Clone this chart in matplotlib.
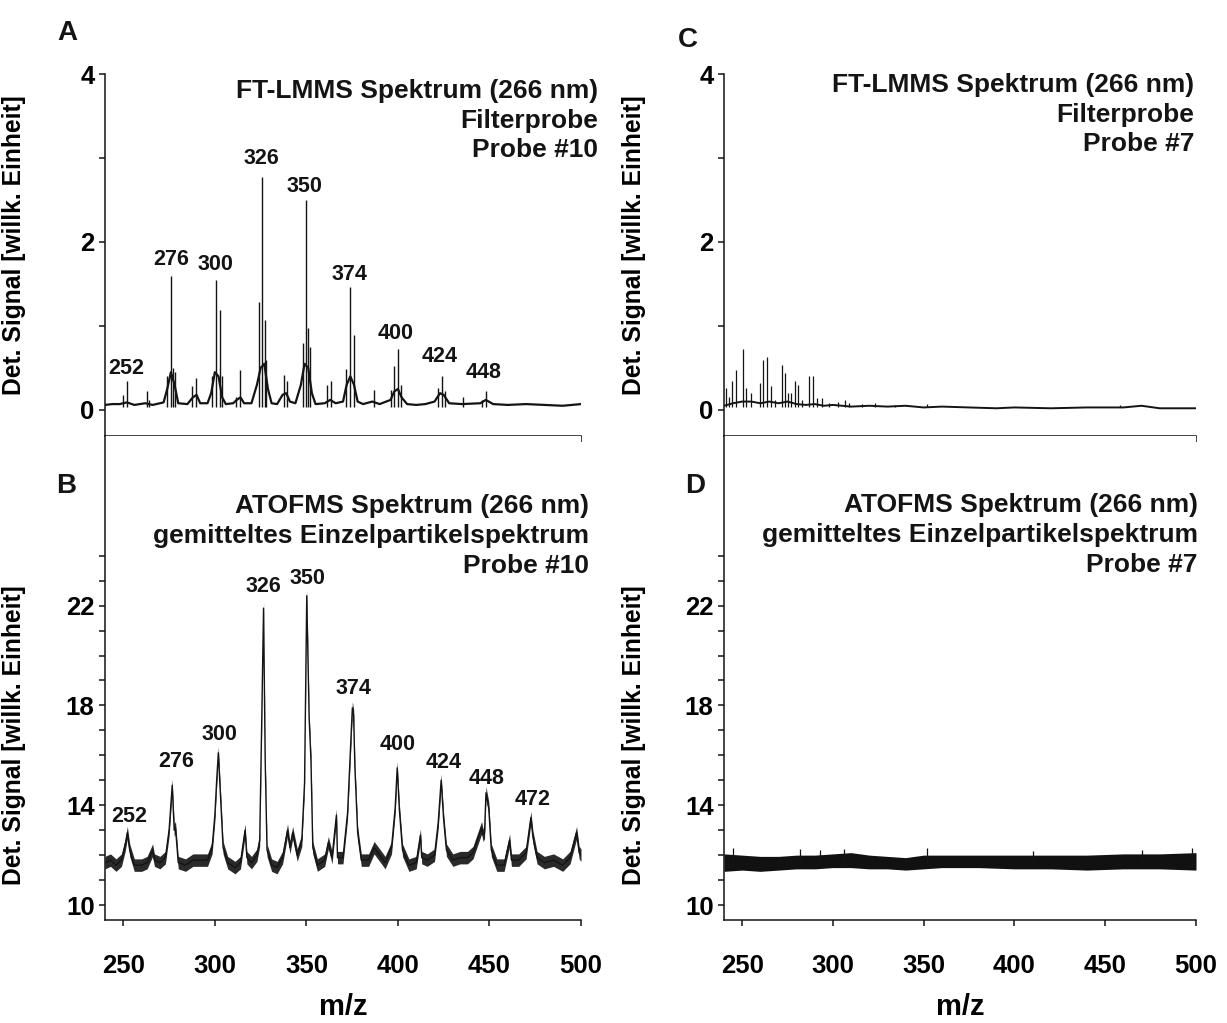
import matplotlib
matplotlib.use("Agg")
import matplotlib.pyplot as plt
from matplotlib.ticker import FixedLocator
import numpy as np

plt.rcParams['font.family'] = ['Liberation Sans', 'DejaVu Sans']
plt.rcParams['font.weight'] = 'bold'

ink = '#141414'

# ---- A: FT-LMMS, Probe #10 (baseline trace + sticks)
A_base_mz = [240, 244, 248, 252, 256, 262, 266, 272, 274, 276, 278, 280, 285, 288, 290, 292, 296, 298,
             300, 302, 304, 306, 310, 312, 314, 316, 320, 323, 325, 327, 329, 331, 334, 337, 339, 341,
             344, 347, 349, 351, 353, 355, 360, 363, 366, 370, 372, 374, 376, 378, 381, 386, 390, 396,
             398, 400, 402, 405, 410, 415, 420, 423, 425, 428, 435, 445, 448, 452, 460, 470, 480, 490, 500]
A_base_sig = [0.06, 0.07, 0.07, 0.09, 0.06, 0.08, 0.06, 0.09, 0.25, 0.45, 0.30, 0.08, 0.07, 0.15, 0.18, 0.08, 0.08, 0.20,
              0.45, 0.40, 0.15, 0.07, 0.08, 0.12, 0.15, 0.08, 0.08, 0.30, 0.50, 0.55, 0.25, 0.08, 0.07, 0.18, 0.20, 0.10,
              0.08, 0.30, 0.55, 0.50, 0.20, 0.07, 0.08, 0.12, 0.08, 0.10, 0.30, 0.40, 0.30, 0.10, 0.07, 0.10, 0.07, 0.12,
              0.22, 0.25, 0.15, 0.07, 0.06, 0.07, 0.10, 0.20, 0.18, 0.08, 0.07, 0.08, 0.12, 0.07, 0.06, 0.07, 0.06, 0.05, 0.07]
A_peak_mz = [249.6, 252, 262.7, 264, 273.6, 276, 277, 278, 287.4, 289.6, 298.5, 300.6, 302.8, 304, 311.5, 313.7,
             324.2, 326, 327.3, 328, 337.5, 339.3, 348.2, 350, 350.9, 352, 361, 363.2, 371.8, 373.8, 376,
             386.9, 396, 397.9, 400, 401.5, 421.7, 423.9, 425.5, 435.4, 446, 448.3]
A_peak_h = [0.18, 0.35, 0.23, 0.12, 0.40, 1.60, 0.50, 0.45, 0.28, 0.38, 0.40, 1.55, 1.19, 0.40, 0.15, 0.48,
            1.28, 2.77, 1.07, 0.60, 0.42, 0.35, 0.80, 2.50, 0.98, 0.75, 0.30, 0.35, 0.49, 1.46, 0.89,
            0.24, 0.24, 0.52, 0.73, 0.30, 0.26, 0.41, 0.22, 0.16, 0.12, 0.23]
A_lab = ['252', '276', '300', '326', '350', '374', '400', '424', '448']
A_lab_mz = [251.7, 276, 300.4, 325.7, 349, 373.3, 398.8, 422.6, 446.8]
A_lab_y = [0.37, 1.67, 1.61, 2.87, 2.54, 1.49, 0.79, 0.51, 0.32]

# ---- B: ATOFMS, Probe #10
B_mz = [240, 243, 246, 249, 251, 252.2, 253.5, 256, 260, 263, 266, 267, 270, 273, 275, 276.7, 277.8, 278.5,
        280, 284, 288, 292, 296, 298.5, 300, 301, 301.9, 303, 304.5, 307, 311, 314, 316.5, 317.5, 320, 323,
        324.5, 325.5, 326.6, 327.5, 328.5, 331, 334, 337, 339.7, 341, 342.5, 345, 347.5, 349, 350.2, 351.5,
        352.5, 353.5, 356, 360, 362, 364, 366.4, 367, 370, 372.5, 373.8, 375.1, 375.8, 376.5, 378, 380, 384,
        387, 390, 393, 396.5, 398.5, 399.6, 400.8, 402.5, 406, 410, 412.3, 413, 416, 420, 422, 423.6, 425,
        426.5, 430, 434, 438, 441, 445.7, 446.5, 447.3, 448.1, 449.6, 451, 454, 458, 461, 462, 466, 470,
        471.5, 472.6, 473.8, 476, 480, 485, 490, 494, 497.6, 499, 500]
B_sig = [11.7, 11.8, 11.6, 11.8, 12.4, 12.9, 12.2, 11.6, 11.6, 11.7, 12.2, 11.8, 11.7, 11.9, 13.0, 14.8, 13.0, 13.1,
         11.7, 11.6, 11.8, 11.8, 11.8, 12.3, 13.6, 15.0, 16.1, 14.5, 12.3, 11.7, 11.5, 11.7, 13.0, 11.9, 11.7, 12.0,
         12.6, 16.9, 21.9, 15.8, 12.2, 11.6, 11.5, 11.9, 13.0, 12.3, 12.9, 12.0, 12.6, 14.9, 22.4, 17.5,
         15.8, 12.3, 11.6, 11.8, 12.5, 11.9, 13.6, 11.9, 11.9, 13.7, 15.8, 17.9, 17.6, 15.5, 12.9, 11.8, 11.8,
         12.3, 12.0, 11.7, 12.3, 13.9, 15.5, 13.8, 12.2, 11.6, 11.7, 12.8, 11.9, 11.8, 12.0, 13.3, 15.0, 13.4,
         12.2, 11.8, 11.9, 11.9, 12.1, 13.1, 12.8, 12.9, 14.5, 13.9, 12.2, 11.6, 11.6, 12.6, 11.8, 11.8, 12.1,
         12.9, 13.5, 12.7, 11.9, 11.7, 11.8, 11.6, 11.9, 12.9, 12.1, 12.0]
B_noise = 0.25
B_lab = ['252', '276', '300', '326', '350', '374', '400', '424', '448', '472']
B_lab_mz = [253.4, 278.9, 302.5, 326.4, 350.6, 375.5, 399.6, 425, 448.6, 473.5]
B_lab_y = [13.13, 15.33, 16.43, 22.33, 22.67, 18.27, 16.0, 15.29, 14.67, 13.8]

# ---- C: FT-LMMS, Probe #7
C_base_mz = [240, 245, 250, 255, 260, 265, 270, 275, 280, 285, 290, 295, 300, 305, 310, 320, 330, 340,
             350, 360, 375, 390, 400, 420, 440, 460, 470, 480, 500]
C_base_sig = [0.05, 0.08, 0.10, 0.10, 0.08, 0.10, 0.08, 0.10, 0.07, 0.06, 0.07, 0.05, 0.06, 0.05, 0.04, 0.05,
              0.04, 0.05, 0.03, 0.04, 0.03, 0.02, 0.03, 0.02, 0.03, 0.03, 0.05, 0.02, 0.02]
C_peak_mz = [241, 243, 244.6, 246.5, 250.4, 252, 255, 259.7, 261.4, 263.5, 265.7, 268, 271.7, 273.4, 275,
             276.8, 279, 281, 282.8, 287, 289, 291, 294, 298, 303, 306.6, 309, 316, 323, 334, 352, 368, 458]
C_peak_h = [0.26, 0.16, 0.34, 0.48, 0.73, 0.26, 0.20, 0.32, 0.60, 0.63, 0.28, 0.12, 0.54, 0.44, 0.20,
            0.20, 0.34, 0.30, 0.12, 0.40, 0.40, 0.14, 0.14, 0.08, 0.10, 0.12, 0.08, 0.07, 0.08, 0.06, 0.07, 0.05, 0.06]

# ---- D: ATOFMS, Probe #7 (flat noise band)
D_mz = [240, 250, 260, 270, 280, 290, 300, 310, 320, 330, 340, 350, 360, 380, 400, 420, 440, 460, 480, 500]
D_lo = [11.35, 11.40, 11.35, 11.40, 11.45, 11.45, 11.50, 11.50, 11.45, 11.45, 11.40, 11.45, 11.50, 11.50,
        11.45, 11.45, 11.40, 11.45, 11.45, 11.40]
D_hi = [12.05, 12.00, 11.95, 11.95, 12.00, 12.00, 12.05, 12.10, 12.00, 11.95, 11.90, 12.00, 12.00, 12.00,
        12.00, 12.00, 12.00, 12.05, 12.05, 12.10]
D_spike_mz = [245, 282, 293, 306, 352, 410, 470, 498]
D_spike_top = [12.3, 12.25, 12.2, 12.25, 12.3, 12.15, 12.2, 12.3]

xticks = [250, 300, 350, 400, 450, 500]
ylab = 'Det. Signal [willk. Einheit]'

fig = plt.figure(figsize=(12.27, 10.23), dpi=100)
W, H = 1227, 1023

def px_axes(x0, x1, ytop, ybot):
    return fig.add_axes([x0 / W, 1 - ybot / H, (x1 - x0) / W, (ybot - ytop) / H])

axA = px_axes(105, 581, 74, 436)
axB = px_axes(105, 581, 436, 920)
axC = px_axes(724, 1196, 74, 436)
axD = px_axes(724, 1196, 436, 920)

for ax in [axA, axB, axC, axD]:
    ax.set_xlim(240, 500)
    ax.spines['top'].set_visible(False)
    ax.spines['right'].set_visible(False)
    for s in ['left', 'bottom']:
        ax.spines[s].set_linewidth(1.1)
        ax.spines[s].set_color(ink)
    ax.set_xticks(xticks)
    ax.tick_params(which='both', direction='out', length=4.5, width=1.1, color=ink,
                   labelsize=18.5, pad=3)
    ax.tick_params(axis='x', pad=20)

for ax in [axA, axC]:
    ax.set_ylim(-0.31, 4)
    ax.yaxis.set_major_locator(FixedLocator([0, 2, 4]))
    ax.yaxis.set_minor_locator(FixedLocator([1, 3]))
    ax.tick_params(axis='x', labelbottom=False)
    ax.set_ylabel(ylab, fontsize=17.7, fontweight='bold')
    ax.yaxis.set_label_coords(-0.166, 0.528)

for ax in [axB, axD]:
    ax.set_ylim(9.4, 28.8)
    ax.yaxis.set_major_locator(FixedLocator([10, 14, 18, 22]))
    ax.yaxis.set_minor_locator(FixedLocator([11, 12, 13, 15, 16, 17, 19, 20, 21, 23, 24]))
    ax.set_ylabel(ylab, fontsize=17.7, fontweight='bold')
    ax.yaxis.set_label_coords(-0.166, 0.382)
    ax.set_xlabel('m/z', fontsize=21, fontweight='bold', labelpad=11)

# A
axA.plot(A_base_mz, A_base_sig, color=ink, lw=1.6)
axA.vlines(A_peak_mz, 0.04, A_peak_h, color=ink, lw=1.0)
for t, x, y in zip(A_lab, A_lab_mz, A_lab_y):
    axA.text(x, y, t, ha='center', va='bottom', fontsize=15.5, fontweight='bold', color=ink)

# B
B_sig_arr = np.array(B_sig)
axB.fill_between(B_mz, B_sig_arr - B_noise, B_sig_arr + B_noise, color='#2a2a2a', lw=0)
axB.plot(B_mz, B_sig, color=ink, lw=1.0)
for t, x, y in zip(B_lab, B_lab_mz, B_lab_y):
    axB.text(x, y, t, ha='center', va='bottom', fontsize=15.5, fontweight='bold', color=ink)

# C
axC.plot(C_base_mz, C_base_sig, color=ink, lw=1.4)
axC.vlines(C_peak_mz, 0.03, C_peak_h, color=ink, lw=0.9)

# D
axD.fill_between(D_mz, D_lo, D_hi, color='#111111', lw=0)
axD.vlines(D_spike_mz, 11.6, D_spike_top, color=ink, lw=0.9)

# header texts
def header(ax, x, ys, lines):
    for y, s in zip(ys, lines):
        ax.text(x, y, s, ha='right', va='baseline', fontsize=19, fontweight='bold', color=ink)

header(axA, 509.5, [3.71, 3.36, 3.01], ['FT-LMMS Spektrum (266 nm)', 'Filterprobe', 'Probe #10'])
header(axC, 499, [3.78, 3.43, 3.08], ['FT-LMMS Spektrum (266 nm)', 'Filterprobe', 'Probe #7'])
header(axB, 504.5, [25.70, 24.52, 23.29],
       ['ATOFMS Spektrum (266 nm)', 'gemitteltes Einzelpartikelspektrum', 'Probe #10'])
header(axD, 501, [25.76, 24.55, 23.36],
       ['ATOFMS Spektrum (266 nm)', 'gemitteltes Einzelpartikelspektrum', 'Probe #7'])

# panel letters
for s, x, y in [('A', 67, 33), ('B', 66, 486), ('C', 688, 40), ('D', 695, 486)]:
    fig.text(x / W, 1 - y / H, s, ha='center', va='center', fontsize=20, fontweight='bold', color=ink)

fig.savefig('out.png', dpi=100, facecolor='white')
